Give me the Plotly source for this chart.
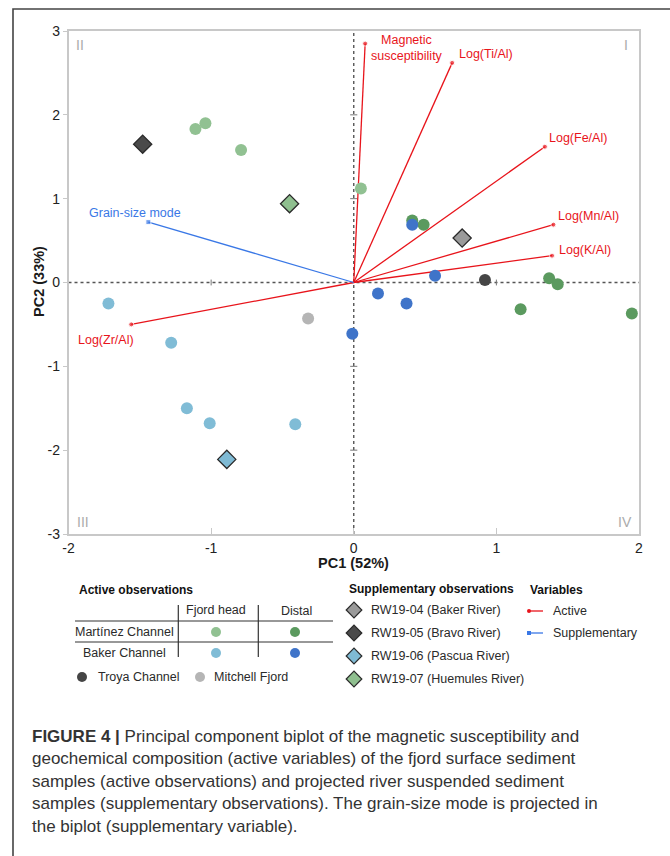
import plotly.graph_objects as go

W, H = 670, 856

# ---------------- data ----------------
mart_head_x = [-1.11, -1.04, -0.79, 0.05]
mart_head_y = [1.83, 1.90, 1.58, 1.12]
mart_dist_x = [0.41, 0.49, 1.37, 1.43, 1.17, 1.95]
mart_dist_y = [0.74, 0.69, 0.05, -0.02, -0.32, -0.37]
baker_head_x = [-1.72, -1.28, -1.17, -1.01, -0.41]
baker_head_y = [-0.25, -0.72, -1.50, -1.68, -1.69]
baker_dist_x = [0.41, 0.57, 0.17, 0.37, -0.01]
baker_dist_y = [0.69, 0.08, -0.13, -0.25, -0.61]
troya_x = [0.92]
troya_y = [0.03]
mitchell_x = [-0.32]
mitchell_y = [-0.43]

river_names = ["RW19-04 (Baker River)", "RW19-05 (Bravo River)",
               "RW19-06 (Pascua River)", "RW19-07 (Huemules River)"]
river_x = [0.76, -1.48, -0.89, -0.45]
river_y = [0.53, 1.65, -2.11, 0.94]

active_vars = ["Magnetic<br>susceptibility", "Log(Ti/Al)", "Log(Fe/Al)",
               "Log(Mn/Al)", "Log(K/Al)", "Log(Zr/Al)"]
active_x = [0.08, 0.69, 1.34, 1.40, 1.39, -1.56]
active_y = [2.85, 2.62, 1.62, 0.69, 0.32, -0.50]
supp_vars = ["Grain-size mode"]
supp_x = [-1.44]
supp_y = [0.72]

x_ticks = [-2, -1, 0, 1, 2]
y_ticks = [-3, -2, -1, 0, 1, 2, 3]
quadrants = ["I", "II", "III", "IV"]

caption_lines = [
    "<b>FIGURE 4 |</b> Principal component biplot of the magnetic susceptibility and",
    "geochemical composition (active variables) of the fjord surface sediment",
    "samples (active observations) and projected river suspended sediment",
    "samples (supplementary observations). The grain-size mode is projected in",
    "the biplot (supplementary variable).",
]

# ---------------- styles ----------------
FONT = "Liberation Sans, Arial, sans-serif"
C_LG, C_DG = "#91c192", "#5b9a5f"
C_LB, C_DB = "#80bcd6", "#3f74c9"
C_TROYA, C_MITCH = "#454545", "#b5b5b5"
river_colors = ["#9a9a9a", "#4a4a4a", "#7fbad4", "#8fbf8f"]
RED, BLUE = "#e8141b", "#3a78e6"

def px(x):
    return x / W

def py(y):
    return 1 - y / H

fig = go.Figure()

# vectors
for name, xe, ye in zip(active_vars, active_x, active_y):
    fig.add_trace(go.Scatter(x=[0, xe], y=[0, ye], mode="lines+markers",
                             line=dict(color=RED, width=1.3),
                             marker=dict(size=[0, 5], color=RED),
                             hoverinfo="skip", showlegend=False))
for name, xe, ye in zip(supp_vars, supp_x, supp_y):
    fig.add_trace(go.Scatter(x=[0, xe], y=[0, ye], mode="lines+markers",
                             line=dict(color=BLUE, width=1.3),
                             marker=dict(size=[0, 5], color=BLUE, symbol="square"),
                             hoverinfo="skip", showlegend=False))

def pts(xs, ys, color, size=12):
    fig.add_trace(go.Scatter(x=xs, y=ys, mode="markers",
                             marker=dict(size=size, color=color, line=dict(width=0)),
                             showlegend=False))

pts(mart_head_x, mart_head_y, C_LG)
pts(mart_dist_x, mart_dist_y, C_DG)
pts(baker_head_x, baker_head_y, C_LB)
pts(baker_dist_x, baker_dist_y, C_DB)
pts(troya_x, troya_y, C_TROYA)
pts(mitchell_x, mitchell_y, C_MITCH)
fig.add_trace(go.Scatter(x=river_x, y=river_y, mode="markers", text=river_names,
                         marker=dict(size=14, symbol="diamond", color=river_colors,
                                     line=dict(color="#2b2b2b", width=1.3)),
                         showlegend=False))

# vector labels (offsets in px)
label_style = {
    "Magnetic<br>susceptibility": dict(xanchor="center", xshift=42, yshift=-4),
    "Log(Ti/Al)": dict(xanchor="left", xshift=5, yshift=9),
    "Log(Fe/Al)": dict(xanchor="left", xshift=2, yshift=9),
    "Log(Mn/Al)": dict(xanchor="left", xshift=3, yshift=9),
    "Log(K/Al)": dict(xanchor="left", xshift=5, yshift=6),
    "Log(Zr/Al)": dict(xanchor="center", xshift=-25, yshift=-16),
    "Grain-size mode": dict(xanchor="center", xshift=-13, yshift=9),
}
annotations = []
for names, xs, ys, col in [(active_vars, active_x, active_y, RED),
                           (supp_vars, supp_x, supp_y, BLUE)]:
    for n, xe, ye in zip(names, xs, ys):
        annotations.append(dict(x=xe, y=ye, xref="x", yref="y", text=n, showarrow=False,
                                yanchor="middle", font=dict(size=12.5, color=col, family=FONT),
                                align="center", **label_style[n]))

# quadrant labels
quad_pos = {"I": (626, 45, "center"), "II": (80, 45, "center"),
            "III": (75, 522, "left"), "IV": (634, 522, "right")}
for q in quadrants:
    xq, yq, anc = quad_pos[q]
    annotations.append(dict(x=px(xq), y=py(yq), xref="paper", yref="paper", text=q,
                            showarrow=False, xanchor=anc, yanchor="middle",
                            font=dict(size=14, color="#ababab", family=FONT)))

# axis titles
annotations.append(dict(x=px(353), y=py(563), xref="paper", yref="paper", text="<b>PC1 (52%)</b>",
                        showarrow=False, xanchor="center", yanchor="middle",
                        font=dict(size=14.5, color="#1a1a1a", family=FONT)))
annotations.append(dict(x=px(39), y=py(282), xref="paper", yref="paper", text="<b>PC2 (33%)</b>",
                        showarrow=False, xanchor="center", yanchor="middle", textangle=-90,
                        font=dict(size=14.5, color="#1a1a1a", family=FONT)))

shapes = []
# zero lines
shapes.append(dict(type="line", xref="x", yref="y", x0=-2, x1=2, y0=0, y1=0,
                   line=dict(color="#555", width=1.4, dash="dot"), layer="below"))
shapes.append(dict(type="line", xref="x", yref="y", x0=0, x1=0, y0=-3, y1=3,
                   line=dict(color="#555", width=1.4, dash="dot"), layer="below"))
for t in [-1, 1]:
    shapes.append(dict(type="line", xref="x", yref="y", x0=t, x1=t, y0=-0.035, y1=0.035,
                       line=dict(color="#777", width=1), layer="below"))
for t in [-2, -1, 1, 2]:
    shapes.append(dict(type="line", xref="x", yref="y", x0=-0.025, x1=0.025, y0=t, y1=t,
                       line=dict(color="#777", width=1), layer="below"))

# outer frame
shapes.append(dict(type="path", xref="paper", yref="paper",
                   path=f"M {px(13)} {py(856)} L {px(13)} {py(9)} L {px(670)} {py(9)}",
                   line=dict(color="#444", width=1.6)))

def txt(x, y, s, size=12.5, bold=False, anchor="left", color="#2a2a2a"):
    annotations.append(dict(x=px(x), y=py(y), xref="paper", yref="paper",
                            text=f"<b>{s}</b>" if bold else s, showarrow=False,
                            xanchor=anchor, yanchor="middle",
                            font=dict(size=size, color=color, family=FONT)))

def hline(x0, x1, y, color="#333", width=1.2):
    shapes.append(dict(type="line", xref="paper", yref="paper", x0=px(x0), x1=px(x1),
                       y0=py(y), y1=py(y), line=dict(color=color, width=width)))

def vline(x, y0, y1, color="#333", width=1.2):
    shapes.append(dict(type="line", xref="paper", yref="paper", x0=px(x), x1=px(x),
                       y0=py(y0), y1=py(y1), line=dict(color=color, width=width)))

# ---- legend: active observations table
txt(77, 590, "Active observations", size=12, bold=True, color="#111")
txt(216, 610, "Fjord head", anchor="center")
txt(296, 611, "Distal", anchor="center")
vline(178.3, 605, 657)
vline(258.3, 605, 657)
hline(75, 333, 621)
hline(75, 333, 642)
txt(124, 632, "Martínez Channel", anchor="center")
txt(124, 653, "Baker Channel", anchor="center")
txt(96, 677, "Troya Channel")
txt(212, 677, "Mitchell Fjord")

leg_dots_x = [216, 295, 216, 295, 82, 200]
leg_dots_y = [632, 632, 653, 653, 677, 677]
leg_dots_c = [C_LG, C_DG, C_LB, C_DB, C_TROYA, C_MITCH]
fig.add_trace(go.Scatter(x=leg_dots_x, y=leg_dots_y, xaxis="x2", yaxis="y2", mode="markers",
                         marker=dict(size=10, color=leg_dots_c), hoverinfo="skip",
                         showlegend=False))

# ---- legend: supplementary observations
txt(347, 589, "Supplementary observations", size=12, bold=True, color="#111")
sup_leg_y = [610, 633, 656, 679]
fig.add_trace(go.Scatter(x=[354] * len(river_names), y=sup_leg_y, xaxis="x2", yaxis="y2",
                         mode="markers", hoverinfo="skip", showlegend=False,
                         marker=dict(size=12, symbol="diamond", color=river_colors,
                                     line=dict(color="#2b2b2b", width=1.2))))
for n, yy in zip(river_names, sup_leg_y):
    txt(369, yy, n)

# ---- legend: variables
txt(528, 590, "Variables", size=12, bold=True, color="#111")
for lab, col, yy, sym in [("Active", RED, 611, "circle"), ("Supplementary", BLUE, 633, "square")]:
    hline(529, 543, yy, color=col, width=1.3)
    fig.add_trace(go.Scatter(x=[529], y=[yy], xaxis="x2", yaxis="y2", mode="markers",
                             marker=dict(size=4, color=col, symbol=sym), hoverinfo="skip",
                             showlegend=False))
    txt(551, yy, lab)

# ---- caption
for i, line in enumerate(caption_lines):
    txt(30, 736 + i * 22.5, line, size=17, color="#333")

fig.update_layout(
    template="none",
    width=W, height=H, margin=dict(l=0, r=0, t=0, b=0, pad=0, autoexpand=False),
    paper_bgcolor="white", plot_bgcolor="rgba(0,0,0,0)",
    font=dict(family=FONT, size=14, color="#222"),
    showlegend=False,
    annotations=annotations, shapes=shapes,
    xaxis=dict(domain=[px(68.5), px(639)], range=[-2, 2], tickvals=x_ticks,
               ticktext=[str(v) for v in x_ticks], showgrid=False, zeroline=False,
               showline=True, mirror=True, linecolor="#c8c8c8", linewidth=1.5,
               ticks="inside", ticklen=6, tickcolor="#c8c8c8", tickfont=dict(size=14),
               fixedrange=True, automargin=False),
    yaxis=dict(domain=[py(534), py(31)], range=[-3, 3], tickvals=y_ticks,
               ticktext=[str(v) for v in y_ticks], showgrid=False, zeroline=False,
               showline=True, mirror=True, linecolor="#c8c8c8", linewidth=1.5,
               ticks="outside", ticklen=4, tickcolor="#c8c8c8", tickfont=dict(size=14),
               fixedrange=True, automargin=False),
    xaxis2=dict(domain=[0, 1], range=[0, W], visible=False, anchor="y2", fixedrange=True,
                automargin=False),
    yaxis2=dict(domain=[0, 1], range=[H, 0], visible=False, anchor="x2", fixedrange=True,
                automargin=False),
)

fig.write_html("out.html", config={"displayModeBar": False},
               post_script="document.body.style.margin='0';document.body.style.overflow='hidden';")
